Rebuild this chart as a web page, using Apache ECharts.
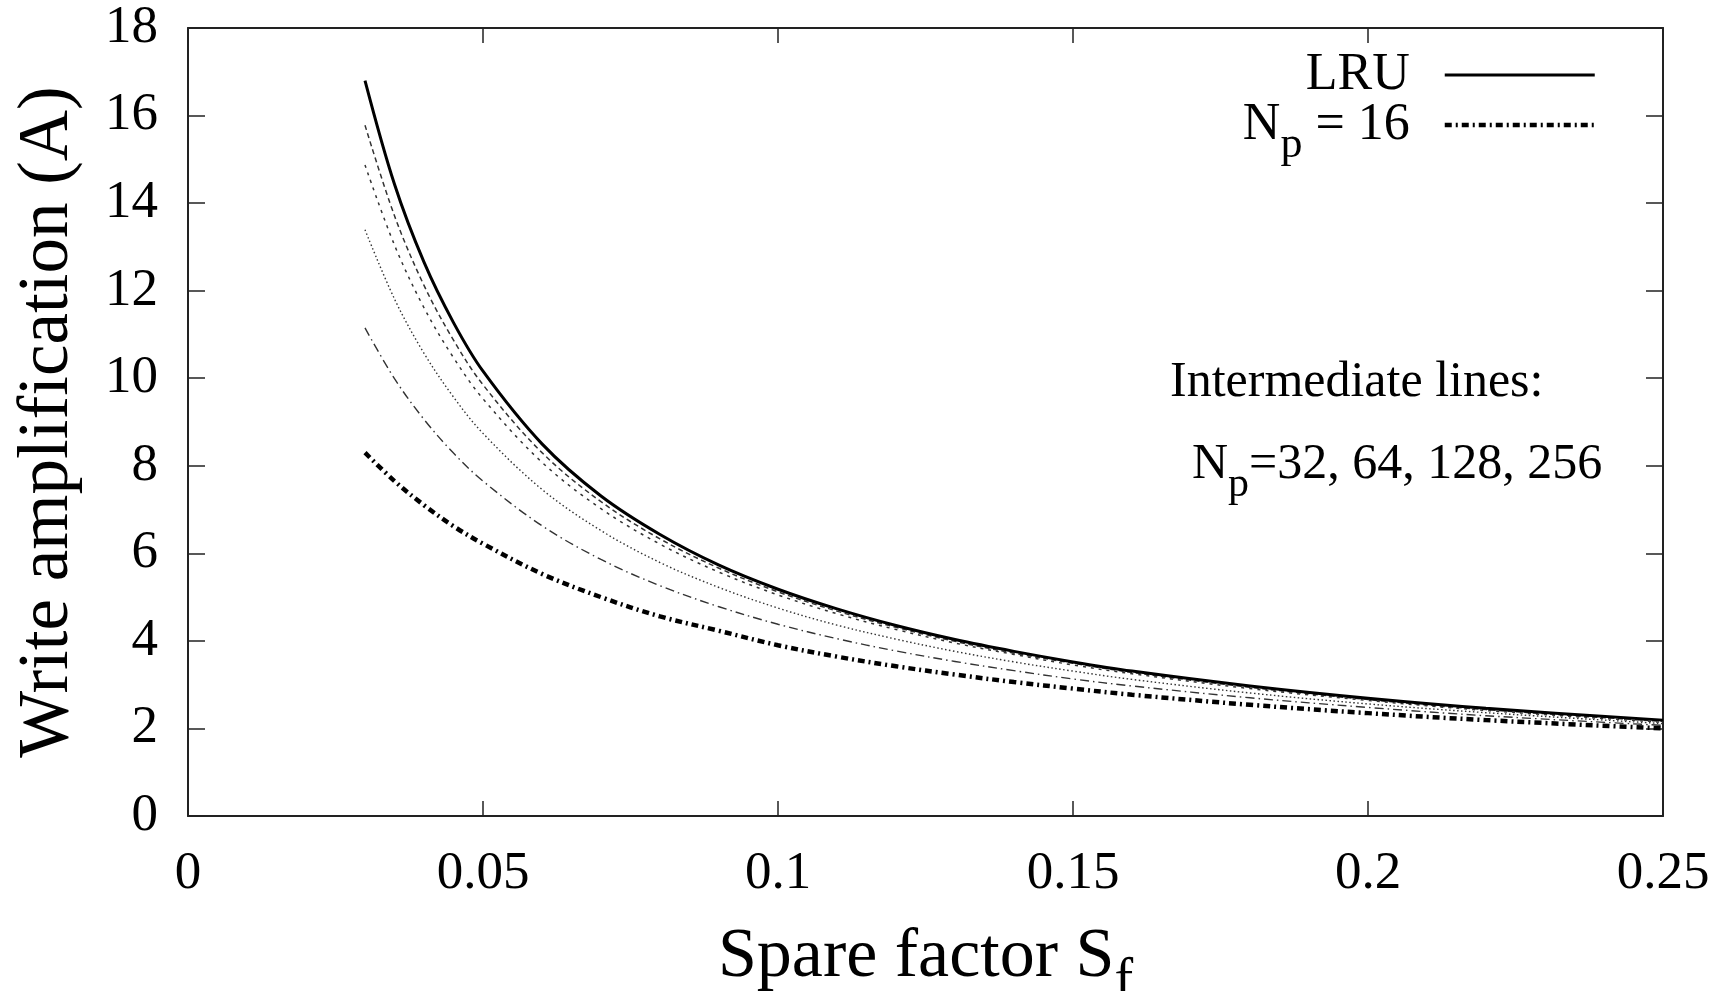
<!DOCTYPE html>
<html>
<head>
<meta charset="utf-8">
<script src="https://cdn.jsdelivr.net/npm/echarts@6/dist/echarts.min.js"></script>
<style>
  html, body { margin: 0; padding: 0; background: #fff; }
  #chart { width: 1735px; height: 991px; }
</style>
</head>
<body>
<div id="chart"></div>
<script>
// spare factor samples (x)
const spareFactor = [0.03, 0.035, 0.04, 0.045, 0.05, 0.06, 0.07, 0.08, 0.09, 0.1,
  0.11, 0.12, 0.13, 0.14, 0.15, 0.16, 0.18, 0.2, 0.22, 0.25]

// write amplification
const lru = [16.8, 14.43, 12.65, 11.27, 10.16, 8.5, 7.31, 6.43, 5.73, 5.18,
  4.73, 4.35, 4.03, 3.76, 3.52, 3.31, 2.97, 2.69, 2.46, 2.19]
const np256 = [15.78, 13.71, 12.12, 10.87, 9.85, 8.3, 7.18, 6.33, 5.66, 5.12,
  4.68, 4.31, 3.99, 3.72, 3.49, 3.28, 2.94, 2.66, 2.43, 2.16]
const np128 = [14.87, 13.04, 11.61, 10.47, 9.53, 8.08, 7.02, 6.21, 5.57, 5.05,
  4.62, 4.26, 3.95, 3.69, 3.45, 3.25, 2.91, 2.64, 2.41, 2.14]
const np64 = [13.39, 11.81, 10.57, 9.57, 8.74, 7.46, 6.52, 5.79, 5.22, 4.75,
  4.36, 4.04, 3.76, 3.52, 3.31, 3.12, 2.81, 2.56, 2.36, 2.11]
const np32 = [11.15, 9.99, 9.06, 8.29, 7.65, 6.63, 5.86, 5.26, 4.78, 4.38,
  4.05, 3.77, 3.53, 3.32, 3.13, 2.97, 2.7, 2.48, 2.29, 2.07]
const np16 = [8.3, 7.65, 7.1, 6.62, 6.22, 5.53, 5.0, 4.56, 4.23, 3.9,
  3.64, 3.42, 3.23, 3.06, 2.91, 2.77, 2.54, 2.35, 2.19, 2.0]

const FONT = 'Liberation Serif, Times New Roman, serif'
const AXIS = '#222'

function pairs(ys) {
  return spareFactor.map((x, i) => [x, ys[i]])
}

function curve(name, ys, color, width, dash) {
  return {
    name,
    type: 'line',
    data: pairs(ys),
    smooth: 0.35,
    symbol: 'none',
    silent: true,
    itemStyle: { color },
    lineStyle: { color, width, type: dash, cap: 'butt' },
  }
}

const chart = echarts.init(document.getElementById('chart'))

function frame(tickLen, labelOpts) {
  return {
    axisLine: { show: true, onZero: false, lineStyle: { color: AXIS, width: 2 } },
    axisTick: { show: true, inside: true, length: tickLen, lineStyle: { color: AXIS, width: 1.5 } },
    splitLine: { show: false },
    axisLabel: labelOpts || { show: false },
  }
}

const tickLabel = { fontFamily: FONT, fontSize: 53, color: '#000' }

chart.setOption({
  animation: false,
  backgroundColor: '#fff',
  grid: { left: 188, right: 72, top: 28, bottom: 175, containLabel: false, outerBoundsMode: 'none' },
  legend: {
    orient: 'vertical',
    align: 'right',
    right: 133,
    top: 44,
    itemWidth: 150,
    itemHeight: 20,
    itemGap: -18,
    selectedMode: false,
    itemStyle: { opacity: 0 },
    data: [
      { name: 'LRU', lineStyle: { width: 3, type: 'solid', color: '#000' } },
      { name: 'Np16', lineStyle: { width: 4.5, type: [7, 4, 2, 4], color: '#000' } },
    ],
    formatter(name) {
      return name === 'LRU' ? '{t|LRU}' : '{t|N}{s|p}{t| = 16}'
    },
    textStyle: {
      padding: [0, 30, 0, 0],
      rich: {
        t: { fontFamily: FONT, fontSize: 52, lineHeight: 46, color: '#000' },
        s: { fontFamily: FONT, fontSize: 44, lineHeight: 6, padding: [40, 0, 0, 0], color: '#000' },
      },
    },
  },
  xAxis: [
    {
      type: 'value', position: 'bottom', min: 0, max: 0.25, interval: 0.05,
      ...frame(15, { margin: 32, ...tickLabel }),
      name: '{t|Spare factor S}{s|f}',
      nameLocation: 'middle',
      nameGap: 98,
      nameTextStyle: {
        rich: {
          t: { fontFamily: FONT, fontSize: 70, lineHeight: 62, color: '#000' },
          s: { fontFamily: FONT, fontSize: 56, lineHeight: 6, padding: [48, 0, 0, 0], color: '#000' },
        },
      },
    },
    {
      type: 'value', position: 'top', min: 0, max: 0.25, interval: 0.05,
      ...frame(15),
    },
  ],
  yAxis: [
    {
      type: 'value', position: 'left', min: 0, max: 18, interval: 2,
      ...frame(17, { margin: 30, ...tickLabel }),
      name: 'Write amplification (A)',
      nameLocation: 'middle',
      nameGap: 104,
      nameTextStyle: { fontFamily: FONT, fontSize: 71, color: '#000' },
    },
    {
      type: 'value', position: 'right', min: 0, max: 18, interval: 2,
      ...frame(17),
    },
  ],
  graphic: [
    {
      type: 'text', left: 1170, top: 358, silent: true,
      style: { text: 'Intermediate lines:', font: '50px ' + FONT, fill: '#000' },
    },
    {
      type: 'text', left: 1192, top: 424, silent: true,
      style: {
        text: '{t|N}{s|p}{t|=32, 64, 128, 256}',
        fill: '#000',
        rich: {
          t: { fontFamily: FONT, fontSize: 50, lineHeight: 46, color: '#000' },
          s: { fontFamily: FONT, fontSize: 42, lineHeight: 6, padding: [40, 0, 0, 0], color: '#000' },
        },
      },
    },
  ],
  series: [
    curve('Np256', np256, '#333', 1.5, [5, 3.5]),
    curve('Np128', np128, '#333', 1.5, [3, 5]),
    curve('Np64', np64, '#333', 1.4, [1.5, 2.5]),
    curve('Np32', np32, '#333', 1.4, [9, 4, 1.5, 4]),
    curve('LRU', lru, '#000', 3, 'solid'),
    curve('Np16', np16, '#000', 4.5, [7, 4, 2, 4]),
  ],
})
</script>
</body>
</html>
